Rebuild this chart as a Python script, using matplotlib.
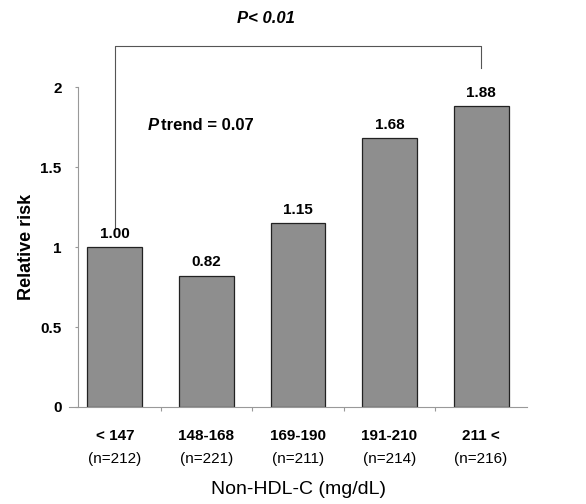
import matplotlib
matplotlib.use("Agg")
import matplotlib.pyplot as plt
from matplotlib.transforms import blended_transform_factory

plt.rcParams['font.family'] = ['Liberation Sans', 'DejaVu Sans']

categories = ["< 147", "148-168", "169-190", "191-210", "211 <"]
counts = ["(n=212)", "(n=221)", "(n=211)", "(n=214)", "(n=216)"]
rr = [1.00, 0.82, 1.15, 1.68, 1.88]
yticks = [0, 0.5, 1, 1.5, 2]
ytick_labels = ["0", "0.5", "1", "1.5", "2"]

fig = plt.figure(figsize=(5.86, 5.04), dpi=100)
ax = fig.add_axes([0.118, 0.1925, 0.781, 0.6345])

x = list(range(len(categories)))
ax.bar(x, rr, width=0.6, color="#8e8e8e", edgecolor="#222222", linewidth=0.9)

for xi, v in zip(x, rr):
    ax.text(xi, v + 0.04, f"{v:.2f}", ha="center", va="bottom",
            fontsize=11, fontweight="bold")

ax.set_xlim(-0.5, 4.5)
ax.set_ylim(0, 2.0)

for s in ["top", "right"]:
    ax.spines[s].set_visible(False)
ax.spines["left"].set_position(("data", -0.4))
ax.spines["left"].set_color("#999999")
ax.spines["bottom"].set_color("#999999")
ax.spines["left"].set_linewidth(0.8)
ax.spines["bottom"].set_linewidth(0.8)

ax.set_yticks(yticks)
ax.set_yticklabels(ytick_labels, fontsize=11, fontweight="bold")
ax.tick_params(axis="y", length=2, color="#999999", pad=10)

# category labels drawn as text so both lines sit where the reference has them
ax.set_xticks([0.5, 1.5, 2.5, 3.5])
ax.set_xticklabels([])
ax.tick_params(axis="x", length=3, color="#999999")

trans = blended_transform_factory(ax.transData, ax.transAxes)
for xi, cat, c in zip(x, categories, counts):
    ax.text(xi, -0.09, cat, transform=trans, ha="center", va="center",
            fontsize=11, fontweight="bold")
    ax.text(xi, -0.163, c, transform=trans, ha="center", va="center", fontsize=11)

ax.set_ylabel("Relative risk", fontsize=13, fontweight="bold", labelpad=4)
fig.text(0.51, 0.028, "Non-HDL-C (mg/dL)", ha="center", va="center", fontsize=14)

# significance bracket between first and last group
ax.plot([0, 0, 4, 4], [1.11, 2.26, 2.26, 2.12], color="#555555",
        linewidth=0.8, clip_on=False)
ax.text(1.65, 2.43, "P< 0.01", ha="center", va="center", fontsize=12,
        fontweight="bold", style="italic")

ax.text(0.36, 1.76, "P", ha="left", va="center", fontsize=12,
        fontweight="bold", style="italic")
ax.text(0.50, 1.76, "trend = 0.07", ha="left", va="center", fontsize=12,
        fontweight="bold")

fig.savefig("out.png", dpi=100)
